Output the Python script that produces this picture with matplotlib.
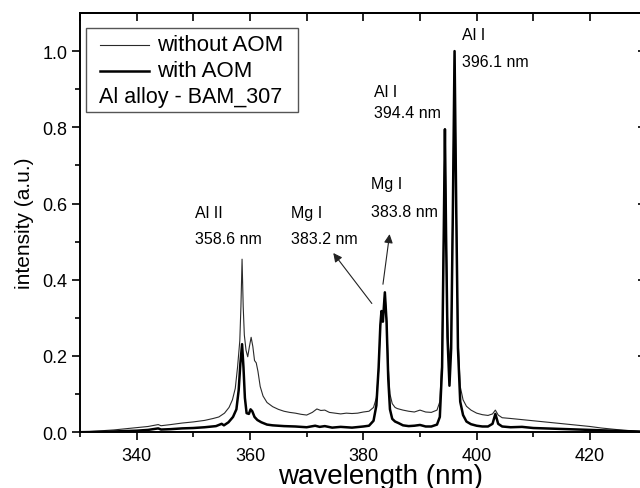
import matplotlib
matplotlib.use('Agg')
import matplotlib.pyplot as plt
from matplotlib.lines import Line2D
from matplotlib.patches import Rectangle

plt.rcParams['font.family'] = ['Liberation Sans', 'DejaVu Sans']

# spectrum without AOM (thin line)
wl_without = [330, 332, 334, 336, 338, 340, 342, 343.8, 344.3, 346, 348, 350, 352, 353.5, 354.5,
              355.5, 356.3, 356.9, 357.4, 357.8, 358.2, 358.4, 358.6, 358.8, 359.0, 359.3, 359.6,
              359.9, 360.2, 360.5, 360.8, 361.1, 361.4, 361.8, 362.3, 363, 364, 365, 366, 367,
              368, 369, 370, 371, 371.8, 372.5, 373.2, 374, 375, 376, 377, 378, 379, 380, 381,
              381.8, 382.3, 382.7, 383.0, 383.2, 383.45, 383.8, 384.1, 384.4, 384.7, 385.1, 385.6,
              386, 387, 388, 389, 390, 391, 392, 393, 393.5, 393.9, 394.2, 394.4, 394.6, 394.85,
              395.2, 395.5, 395.8, 396.1, 396.4, 396.7, 397.1, 397.6, 398.2, 399, 400, 401, 402,
              402.8, 403.3, 403.8, 404.5, 406, 408, 410, 412, 414, 416, 418, 420, 422, 424, 426,
              428, 430]
int_without = [0.000, 0.002, 0.004, 0.006, 0.009, 0.012, 0.015, 0.020, 0.017, 0.020, 0.024, 0.027,
               0.031, 0.036, 0.040, 0.050, 0.065, 0.085, 0.115, 0.170, 0.240, 0.330, 0.454, 0.330,
               0.255, 0.215, 0.198, 0.225, 0.249, 0.225, 0.188, 0.182, 0.160, 0.120, 0.095, 0.078,
               0.067, 0.060, 0.055, 0.052, 0.050, 0.047, 0.045, 0.052, 0.061, 0.057, 0.058, 0.052,
               0.050, 0.048, 0.050, 0.049, 0.050, 0.053, 0.055, 0.065, 0.090, 0.160, 0.280, 0.318,
               0.290, 0.367, 0.300, 0.170, 0.100, 0.075, 0.065, 0.062, 0.058, 0.055, 0.053, 0.058,
               0.053, 0.052, 0.058, 0.080, 0.200, 0.550, 0.795, 0.550, 0.300, 0.174, 0.250, 0.600,
               1.000, 0.600, 0.250, 0.120, 0.085, 0.068, 0.058, 0.050, 0.046, 0.044, 0.048, 0.058,
               0.045, 0.038, 0.036, 0.033, 0.030, 0.027, 0.024, 0.021, 0.018, 0.015, 0.011, 0.008,
               0.005, 0.003, 0.001]

# spectrum with AOM (thick line)
wl_with = [330, 334, 338, 340, 342, 343.8, 344.3, 346, 348, 350, 352, 354, 355, 355.4, 356.2, 357.0,
           357.6, 358.0, 358.3, 358.6, 358.85, 359.1, 359.4, 359.8, 360.1, 360.4, 360.8, 361.3,
           362, 363, 364, 366, 368, 370, 371.5, 372.3, 373.2, 374.5, 376, 378, 380, 381, 381.8,
           382.3, 382.7, 383.0, 383.2, 383.45, 383.8, 384.1, 384.4, 384.7, 385.1, 385.6, 386.2,
           387, 388, 389, 390, 391, 392, 393, 393.5, 393.9, 394.2, 394.4, 394.6, 394.85, 395.2,
           395.5, 395.8, 396.1, 396.4, 396.7, 397.1, 397.6, 398.2, 399, 400, 401, 402, 402.8,
           403.3, 403.8, 404.5, 406, 408, 410, 414, 418, 422, 426, 430]
int_with = [0.000, 0.001, 0.003, 0.004, 0.006, 0.010, 0.007, 0.008, 0.010, 0.011, 0.013, 0.016,
            0.022, 0.018, 0.026, 0.040, 0.060, 0.110, 0.180, 0.231, 0.170, 0.090, 0.050, 0.048,
            0.060, 0.055, 0.040, 0.032, 0.026, 0.020, 0.018, 0.016, 0.015, 0.013, 0.017, 0.014,
            0.016, 0.012, 0.014, 0.012, 0.015, 0.017, 0.030, 0.070, 0.170, 0.280, 0.318, 0.290,
            0.367, 0.290, 0.140, 0.060, 0.035, 0.028, 0.024, 0.018, 0.016, 0.017, 0.019, 0.015,
            0.015, 0.020, 0.040, 0.170, 0.530, 0.795, 0.520, 0.250, 0.122, 0.220, 0.580, 1.000,
            0.580, 0.220, 0.080, 0.045, 0.028, 0.021, 0.017, 0.015, 0.015, 0.022, 0.048, 0.022,
            0.015, 0.013, 0.014, 0.011, 0.009, 0.007, 0.005, 0.003, 0.001]

# line labels: (text, x, y)
labels = [('Al II', 350.3, 0.577), ('358.6 nm', 350.3, 0.507),
          ('Mg I', 367.2, 0.577), ('383.2 nm', 367.2, 0.507),
          ('Mg I', 381.3, 0.653), ('383.8 nm', 381.3, 0.580),
          ('Al I', 381.9, 0.893), ('394.4 nm', 381.9, 0.839),
          ('Al I', 397.4, 1.044), ('396.1 nm', 397.4, 0.972)]
# arrows: (tail, head)
arrows = [((381.8, 0.332), (374.4, 0.476)),
          ((383.4, 0.381), (384.7, 0.527))]

fig = plt.figure(figsize=(6.4, 4.89), dpi=100)
ax = fig.add_axes([0.125, 0.1141, 0.8854, 0.8573])

ax.plot(wl_without, int_without, color='#2a2a2a', lw=0.8)
ax.plot(wl_with, int_with, color='black', lw=1.8)

ax.set_xlim(330, 430)
ax.set_ylim(0, 1.1)
ax.set_xticks([340, 360, 380, 400, 420])
ax.set_xticks(range(330, 431, 10), minor=True)
ax.set_yticks([0.0, 0.2, 0.4, 0.6, 0.8, 1.0])
ax.set_yticks([0.1, 0.3, 0.5, 0.7, 0.9], minor=True)
ax.yaxis.set_major_formatter(matplotlib.ticker.FormatStrFormatter('%.1f'))
ax.tick_params(which='major', direction='out', length=6, width=1.2, labelsize=13)
ax.tick_params(which='minor', direction='out', length=3.5, width=1.2)
ax.tick_params(axis='x', pad=5)
ax.tick_params(axis='y', pad=3)
for s in ax.spines.values():
    s.set_linewidth(1.4)

top = ax.secondary_xaxis('top')
top.set_xticks([340, 360, 380, 400, 420])
top.set_xticks(range(330, 431, 10), minor=True)
top.tick_params(which='both', direction='in', length=6, width=1.2, labeltop=False)
top.spines['top'].set_linewidth(1.4)
right = ax.secondary_yaxis('right')
right.set_yticks([0.0, 0.2, 0.4, 0.6, 0.8, 1.0])
right.set_yticks([0.1, 0.3, 0.5, 0.7, 0.9], minor=True)
right.tick_params(which='major', direction='in', length=6.5, width=1.2, labelright=False)
right.tick_params(which='minor', direction='in', length=3.5, width=1.2)

ax.set_xlabel('wavelength (nm)', fontsize=20, va='top')
ax.xaxis.set_label_coords(0.531, -0.074)
ax.set_ylabel('intensity (a.u.)', fontsize=15, labelpad=6)

for txt, x, y in labels:
    ax.text(x, y, txt, fontsize=11.5, va='center', ha='left')
for tail, head in arrows:
    ax.annotate('', xy=head, xytext=tail,
                arrowprops=dict(arrowstyle='-|>', color='#222222', lw=0.8, mutation_scale=13))

# legend box drawn like the original
ax.add_patch(Rectangle((0.0106, 0.7646), 0.3735, 0.1989, transform=ax.transAxes,
                       facecolor='white', edgecolor='#555555', lw=1.0, zorder=5))
ax.add_line(Line2D([0.0353, 0.1218], [0.9244, 0.9244], transform=ax.transAxes,
                   color='#2a2a2a', lw=0.8, zorder=6))
ax.add_line(Line2D([0.0353, 0.1218], [0.8624, 0.8624], transform=ax.transAxes,
                   color='black', lw=1.8, zorder=6))
ax.text(0.1353, 0.9244, 'without AOM', transform=ax.transAxes, fontsize=16, va='center', zorder=6)
ax.text(0.1353, 0.8624, 'with AOM', transform=ax.transAxes, fontsize=16, va='center', zorder=6)
ax.text(0.0341, 0.7996, 'Al alloy - BAM_307', transform=ax.transAxes, fontsize=15.5,
        va='center', zorder=6)

fig.savefig('out.png', dpi=100)
